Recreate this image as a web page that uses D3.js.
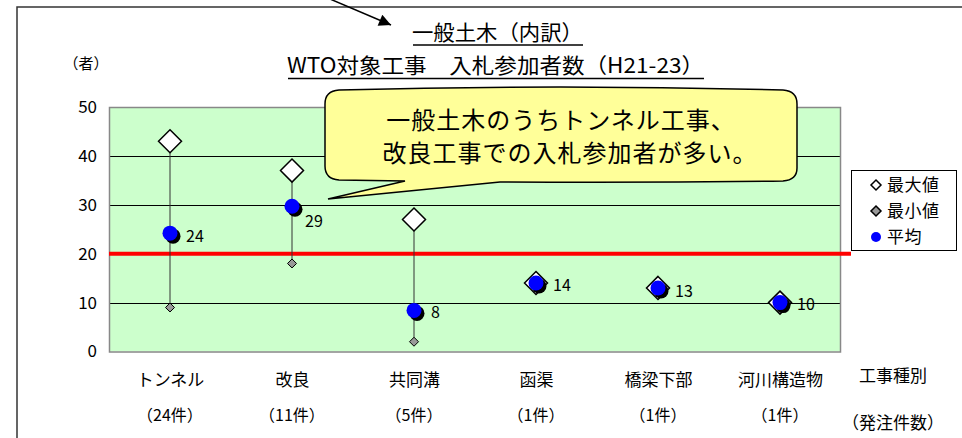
<!DOCTYPE html>
<html><head><meta charset="utf-8">
<script src="https://cdn.jsdelivr.net/npm/d3@7"></script>
<style>
html,body{margin:0;padding:0;background:#fff;}
svg{display:block;font-family:"Noto Sans CJK JP","Noto Sans",sans-serif;}
</style></head>
<body><svg id="c" width="962" height="438"></svg>
<script>
const categories = ["トンネル","改良","共同溝","函渠","橋梁下部","河川構造物"];
const orderCounts = ["（24件）","（11件）","（5件）","（1件）","（1件）","（1件）"];
const maxValues = [43,37,27,14,13,10];
const minValues = [9,18,2,14,13,10];
const avgValues = [24.2,29.7,8.4,14,13,10];
const avgLabels = ["24","29","8","14","13","10"];
const yTicks = [0,10,20,30,40,50];
const referenceValue = 20;
const titleLines = ["一般土木（内訳）","WTO対象工事　入札参加者数（H21-23）"];
const calloutLines = ["一般土木のうちトンネル工事、","改良工事での入札参加者が多い。"];
const legendNames = ["最大値","最小値","平均"];

const svg = d3.select("#c");
const plot = {left:109, right:841, top:107, bottom:351.5};
const x = d3.scalePoint().domain(categories).range([plot.left, plot.right]).padding(0.5);
const y = d3.scaleLinear().domain([0,50]).range([plot.bottom, plot.top]);

// outer frame
svg.append("path").attr("d","M17,438 V7 H962").attr("fill","none").attr("stroke","#333").attr("stroke-width",1.5);

// arrow
const defs = svg.append("defs");
defs.append("marker").attr("id","ah").attr("viewBox","0 0 10 10").attr("refX",10).attr("refY",5)
  .attr("markerWidth",17).attr("markerHeight",12).attr("markerUnits","userSpaceOnUse").attr("orient","auto")
  .append("path").attr("d","M0,0 L10,5 L0,10 z").attr("fill","#000");
svg.append("line").attr("x1",330).attr("y1",-1).attr("x2",391).attr("y2",25)
  .attr("stroke","#000").attr("stroke-width",1.5).attr("marker-end","url(#ah)");

// titles
const tY = [40, 73];
const tSpan = [[412,583],[287,704]];
titleLines.forEach((t,i)=>{
  svg.append("text").attr("x",tSpan[i][0]).attr("y",tY[i])
    .attr("textLength",tSpan[i][1]-tSpan[i][0]).attr("lengthAdjust","spacingAndGlyphs")
    .attr("font-size",21).attr("fill","#000").text(t);
});
svg.append("line").attr("x1",413).attr("x2",583).attr("y1",45).attr("y2",45).attr("stroke","#000").attr("stroke-width",1.5);
svg.append("line").attr("x1",288).attr("x2",704).attr("y1",78.5).attr("y2",78.5).attr("stroke","#000").attr("stroke-width",1.5);

svg.append("text").attr("x",86).attr("y",69).attr("text-anchor","middle").attr("font-size",15).text("（者）");

// plot background
svg.append("rect").attr("x",plot.left).attr("y",plot.top).attr("width",plot.right-plot.left)
  .attr("height",plot.bottom-plot.top).attr("fill","#CCFFCC");

// gridlines
svg.append("g").selectAll("line").data(yTicks.filter(d=>d>0&&d<50)).join("line")
  .attr("x1",plot.left).attr("x2",plot.right).attr("y1",d=>Math.round(y(d))+0.5).attr("y2",d=>Math.round(y(d))+0.5)
  .attr("stroke","#000").attr("stroke-width",1);

// border
svg.append("rect").attr("x",plot.left+0.5).attr("y",plot.top+0.5).attr("width",plot.right-plot.left-1)
  .attr("height",plot.bottom-plot.top).attr("fill","none").attr("stroke","#888").attr("stroke-width",1.5);

// y axis labels via axis
const yAxis = d3.axisLeft(y).tickValues(yTicks).tickSize(0).tickPadding(12);
const ga = svg.append("g").attr("transform",`translate(${plot.left},0)`).call(yAxis);
ga.select(".domain").remove();
ga.selectAll("text").attr("font-size",17).attr("font-family","'Noto Sans CJK JP',sans-serif").attr("fill","#000");

// reference line
svg.append("line").attr("x1",plot.left).attr("x2",851).attr("y1",y(referenceValue)).attr("y2",y(referenceValue))
  .attr("stroke","#FF0000").attr("stroke-width",4);

// high-low lines
const idx = d3.range(categories.length);
svg.append("g").selectAll("line").data(idx).join("line")
  .attr("x1",i=>x(categories[i])).attr("x2",i=>x(categories[i]))
  .attr("y1",i=>y(maxValues[i])).attr("y2",i=>y(minValues[i]))
  .attr("stroke","#333").attr("stroke-width",1);

const diamond = (s)=>`M0,${-s} L${s},0 L0,${s} L${-s},0 Z`;
// max markers
svg.append("g").selectAll("path").data(idx).join("path")
  .attr("transform",i=>`translate(${x(categories[i])},${y(maxValues[i])})`)
  .attr("d",diamond(11.5)).attr("fill","#fff").attr("stroke","#000").attr("stroke-width",1.5);
// min markers
svg.append("g").selectAll("path").data(idx).join("path")
  .attr("transform",i=>`translate(${x(categories[i])},${y(minValues[i])})`)
  .attr("d",diamond(4.5)).attr("fill","#999").attr("stroke","#000").attr("stroke-width",1);
// avg shadow + circle
svg.append("g").selectAll("circle").data(idx).join("circle")
  .attr("cx",i=>x(categories[i])+3).attr("cy",i=>y(avgValues[i])+3).attr("r",7.5).attr("fill","#000");
svg.append("g").selectAll("circle").data(idx).join("circle")
  .attr("cx",i=>x(categories[i])).attr("cy",i=>y(avgValues[i])).attr("r",7.5).attr("fill","#0000FF");
// labels
const nudge = [[16,3],[13,15],[17,2],[17,2],[17,3],[17,2]];
svg.append("g").selectAll("text").data(idx).join("text")
  .attr("x",i=>x(categories[i])+nudge[i][0]).attr("y",i=>y(avgValues[i])+nudge[i][1])
  .attr("dy","0.35em").attr("font-size",16).attr("fill","#000").text(i=>avgLabels[i]);

// category labels
const xAxis = d3.axisBottom(x).tickSize(0).tickPadding(0);
const gx = svg.append("g").attr("transform",`translate(0,380)`).call(xAxis);
gx.select(".domain").remove();
gx.selectAll("text").attr("dy","0.35em").attr("font-size",17).attr("font-family","'Noto Sans CJK JP',sans-serif").attr("fill","#000");
svg.append("g").selectAll("text").data(idx).join("text")
  .attr("x",i=>x(categories[i])).attr("y",415).attr("dy","0.35em").attr("text-anchor","middle")
  .attr("font-size",16).text(i=>orderCounts[i]);
svg.append("text").attr("x",893).attr("y",376).attr("dy","0.35em").attr("text-anchor","middle").attr("font-size",17).text("工事種別");
svg.append("text").attr("x",893).attr("y",423).attr("dy","0.35em").attr("text-anchor","middle").attr("font-size",17).text("（発注件数）");

// legend
svg.append("rect").attr("x",851.5).attr("y",170.5).attr("width",105).attr("height",80).attr("fill","#fff").attr("stroke","#000").attr("stroke-width",1);
const ly = [185,211,237];
svg.append("path").attr("transform",`translate(876,${ly[0]})`).attr("d",diamond(5)).attr("fill","#fff").attr("stroke","#000").attr("stroke-width",1.5);
svg.append("path").attr("transform",`translate(876,${ly[1]})`).attr("d",diamond(5)).attr("fill","#999").attr("stroke","#000").attr("stroke-width",1.5);
svg.append("circle").attr("cx",876).attr("cy",ly[2]).attr("r",5).attr("fill","#0000FF");
legendNames.forEach((n,i)=>{
  svg.append("text").attr("x",887).attr("y",ly[i]).attr("dy","0.35em").attr("font-size",17).attr("letter-spacing",0.5).text(n);
});

// callout
const cp = "M339,90 Q560,84 783,90 Q797,91 797,104 L797,168 Q797,180 783,181 Q640,183 500,182 L328,199 L405,181 L339,180 Q325,179 325,166 L325,104 Q325,91 339,90 Z";
svg.append("path").attr("d",cp).attr("fill","#FFFF99").attr("stroke","#000").attr("stroke-width",1.5);
const cY=[121,154];
calloutLines.forEach((t,i)=>{
  svg.append("text").attr("x",[561,570][i]).attr("y",cY[i]).attr("dy","0.35em").attr("text-anchor","middle")
    .attr("font-size",24).attr("letter-spacing",1).text(t);
});
</script></body></html>
